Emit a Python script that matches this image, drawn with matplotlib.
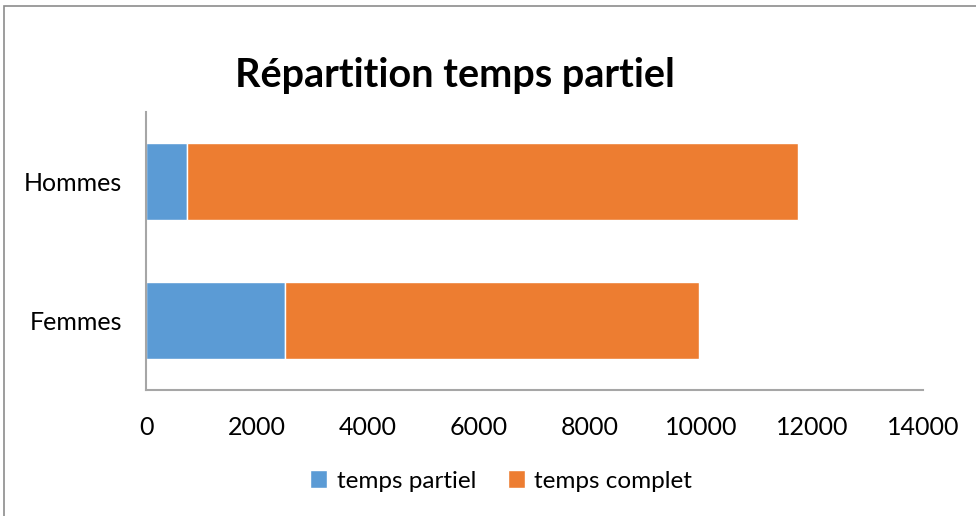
import matplotlib.pyplot as plt
from matplotlib.patches import Rectangle

categories = ["Femmes", "Hommes"]
partiel = [2510, 740]
complet = [7445, 11010]
series_labels = ["temps partiel", "temps complet"]
xticks = [0, 2000, 4000, 6000, 8000, 10000, 12000, 14000]

plt.rcParams["font.family"] = ["Lato", "DejaVu Sans"]

fig = plt.figure(figsize=(9.76, 5.16), dpi=100)
ax = fig.add_axes([146 / 976, 1 - 390 / 516, 777 / 976, 278 / 516])

blue, orange = "#5B9BD5", "#ED7D31"
pos = range(len(categories))
ax.barh(pos, partiel, height=0.56, color=blue, edgecolor="white", linewidth=1,
        label=series_labels[0])
ax.barh(pos, complet, left=partiel, height=0.56, color=orange, edgecolor="white",
        linewidth=1, label=series_labels[1])

ax.set_xlim(0, 14000)
ax.set_ylim(-0.5, 1.5)
ax.set_xticks(xticks)
ax.set_yticks(list(pos))
ax.set_yticklabels(categories)
ax.tick_params(length=0, labelsize=18, colors="#000000")
ax.tick_params(axis="x", pad=19)
ax.tick_params(axis="y", pad=17)
for s in ("top", "right"):
    ax.spines[s].set_visible(False)
for s in ("left", "bottom"):
    ax.spines[s].set_color("#A6A6A6")
    ax.spines[s].set_linewidth(1.5)

fig.text(455 / 976, 1 - 76 / 516, "Répartition temps partiel", ha="center",
         va="center", fontsize=28.5, fontweight="bold")

fig.legend(loc="center", bbox_to_anchor=(501 / 976, 1 - 481 / 516), ncol=2,
           frameon=False, fontsize=17.5, handlelength=0.7, handleheight=0.7,
           handletextpad=0.4, columnspacing=1.3)

# outer chart border (only top/left visible in the crop)
fig.patches.append(Rectangle((4 / 976, -0.1), 1.2, 1 - 6 / 516 + 0.1,
                             transform=fig.transFigure, fill=False,
                             edgecolor="#8C8C8C", linewidth=1.2))

fig.savefig("out.png", dpi=100)
